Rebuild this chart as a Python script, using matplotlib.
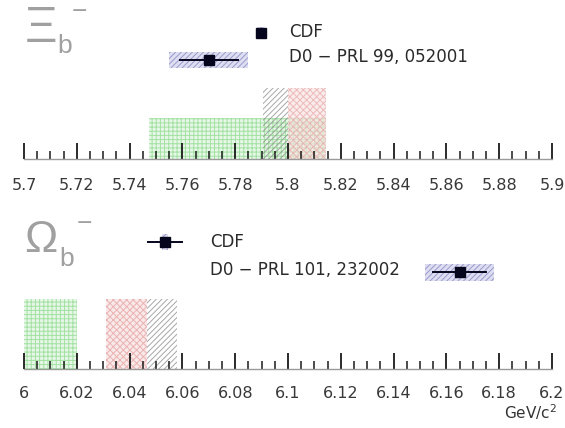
import matplotlib
matplotlib.use("Agg")
import matplotlib.pyplot as plt
from matplotlib.patches import Rectangle
import numpy as np

plt.rcParams['font.family'] = ['DejaVu Sans']

# ---------------- data ----------------
# Xi_b panel
xi_range = (5.7, 5.9)
xi_ticks = [5.7, 5.72, 5.74, 5.76, 5.78, 5.8, 5.82, 5.84, 5.86, 5.88, 5.9]
xi_ticklabels = ["5.7", "5.72", "5.74", "5.76", "5.78", "5.8", "5.82", "5.84", "5.86", "5.88", "5.9"]
xi_pred_green = (5.7475, 5.8145)
xi_pred_gray = (5.7905, 5.8)
xi_pred_red = (5.8, 5.8145)
xi_cdf_mass, xi_cdf_stat, xi_cdf_tot = 5.7897, 0.0, 0.0013
xi_d0_mass, xi_d0_stat, xi_d0_tot = 5.770, 0.011, 0.015
xi_labels = ["CDF", "D0 \u2212 PRL 99, 052001"]

# Omega_b panel
om_range = (6.0, 6.2)
om_ticks = [6.0, 6.02, 6.04, 6.06, 6.08, 6.1, 6.12, 6.14, 6.16, 6.18, 6.2]
om_ticklabels = ["6", "6.02", "6.04", "6.06", "6.08", "6.1", "6.12", "6.14", "6.16", "6.18", "6.2"]
om_pred_green = (6.0, 6.02)
om_pred_red = (6.031, 6.0466)
om_pred_gray = (6.0466, 6.058)
om_cdf_mass, om_cdf_stat, om_cdf_tot = 6.0534, 0.0066, 0.001
om_d0_mass, om_d0_stat, om_d0_tot = 6.165, 0.010, 0.013
om_labels = ["CDF", "D0 \u2212 PRL 101, 232002"]

unit_label = "GeV/c$^{2}$"

# ---------------- layout ----------------
W, H = 565, 428
fig = plt.figure(figsize=(W / 100, H / 100), dpi=100)

def axes_px(left, top, right, bottom):
    return fig.add_axes([left / W, 1 - bottom / H, (right - left) / W, (bottom - top) / H])

def fpx(x, y):
    return x / W, 1 - y / H

GREEN_FC = '#e6f7e6'
GREEN_HC = '#a0e0a0'
RED_HC = '#e6a0a0'
GRAY_HC = '#8a8a8a'
BAND_FC = '#dedef2'
BAND_HC = '#9a9acc'
MARK_C = '#05051e'
TXT_C = '#2a2a2a'

def style_axis(ax, xr, ticks, labels, height, pad):
    ax.set_xlim(*xr)
    ax.set_ylim(0, height)
    for s in ['top', 'left', 'right']:
        ax.spines[s].set_visible(False)
    ax.spines['bottom'].set_color('#9a9a9a')
    ax.spines['bottom'].set_linewidth(1.0)
    ax.set_yticks([])
    ax.set_xticks(ticks)
    ax.set_xticklabels(labels)
    ax.set_xticks(np.arange(xr[0], xr[1] + 1e-9, 0.005), minor=True)
    ax.tick_params(axis='x', which='major', direction='in', length=11.5, width=1.3,
                   color='#1a1a1a', labelsize=11.5, labelcolor='#383838', pad=pad)
    ax.tick_params(axis='x', which='minor', direction='in', length=5.8, width=1.1,
                   color='#1a1a1a')
    ax.patch.set_alpha(0)

def pred(ax, rng, top, fc, hc, hatch, alpha=1.0):
    ax.add_patch(Rectangle((rng[0], 0), rng[1] - rng[0], top, facecolor=fc,
                           edgecolor=hc, hatch=hatch, linewidth=0, alpha=alpha, zorder=1))

def meas(ax, m, stat, tot, y, bh, ms=7.5):
    if tot > 0:
        ax.add_patch(Rectangle((m - tot, y - bh / 2), 2 * tot, bh, facecolor=BAND_FC,
                               edgecolor=BAND_HC, hatch='//////', linewidth=0, zorder=3))
    if stat > 0:
        ax.plot([m - stat, m + stat], [y, y], color=MARK_C, lw=1.4, zorder=4)
    ax.plot([m], [y], marker='s', ms=ms, color=MARK_C, zorder=5)

plt.rcParams['hatch.linewidth'] = 0.7

# top panel
ax1 = axes_px(24, 0, 552, 159)
style_axis(ax1, xi_range, xi_ticks, xi_ticklabels, 159, 14)
pred(ax1, xi_pred_green, 41, GREEN_FC, GREEN_HC, '++++', alpha=0.95)
pred(ax1, xi_pred_gray, 71, 'none', GRAY_HC, '//////', alpha=0.75)
pred(ax1, xi_pred_red, 71, '#f8e2e2', RED_HC, 'xxxxx', alpha=0.65)
meas(ax1, xi_cdf_mass, xi_cdf_stat, xi_cdf_tot, 126, 12)
meas(ax1, xi_d0_mass, xi_d0_stat, xi_d0_tot, 99, 16)
ax1.text(5.8004, 127, xi_labels[0], fontsize=12, color=TXT_C, va='center', ha='left')
ax1.text(5.8004, 102, xi_labels[1], fontsize=12, color=TXT_C, va='center', ha='left')

# bottom panel
ax2 = axes_px(24, 200, 552, 369)
style_axis(ax2, om_range, om_ticks, om_ticklabels, 169, 12.5)
pred(ax2, om_pred_green, 70, GREEN_FC, GREEN_HC, '++++', alpha=0.95)
pred(ax2, om_pred_red, 70, '#f8e2e2', RED_HC, 'xxxxx', alpha=0.75)
pred(ax2, om_pred_gray, 70, 'none', GRAY_HC, '//////', alpha=0.75)
meas(ax2, om_cdf_mass, om_cdf_stat, om_cdf_tot, 127, 16)
meas(ax2, om_d0_mass, om_d0_stat, om_d0_tot, 97, 17)
ax2.text(6.0705, 127, om_labels[0], fontsize=12, color=TXT_C, va='center', ha='left')
ax2.text(6.0705, 99, om_labels[1], fontsize=12, color=TXT_C, va='center', ha='left')

fig.text(*fpx(557, 412), unit_label, fontsize=11, color='#333333', ha='right', va='center')

# particle symbols
GR = '#a0a0a0'
fig.text(*fpx(25, 29), "\u039e", fontsize=36, color=GR, ha='left', va='center',
         family='Liberation Sans')
fig.text(*fpx(57, 46), "b", fontsize=19, color=GR, ha='left', va='center',
         family='Liberation Sans')
fig.text(*fpx(72, 12), "\u2212", fontsize=19, color=GR, ha='left', va='center',
         family='Liberation Sans')
fig.text(*fpx(24, 241), "\u03a9", fontsize=32, color=GR, ha='left', va='center',
         family='Liberation Sans')
fig.text(*fpx(59, 259), "b", fontsize=19, color=GR, ha='left', va='center',
         family='Liberation Sans')
fig.text(*fpx(77, 224), "\u2212", fontsize=19, color=GR, ha='left', va='center',
         family='Liberation Sans')

fig.savefig("out.png", dpi=100, facecolor='white')
